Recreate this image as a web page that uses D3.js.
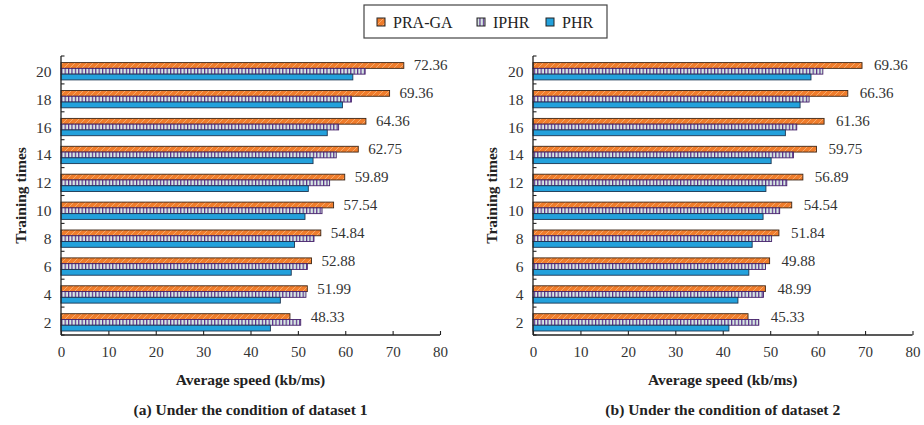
<!DOCTYPE html>
<html>
<head>
<meta charset="utf-8">
<script src="https://cdn.jsdelivr.net/npm/d3@7"></script>
<style>
  html, body { margin: 0; padding: 0; background: #fff; }
  svg text { font-family: "Liberation Serif", "Times New Roman", Times, serif; }
</style>
</head>
<body>
<svg id="chart" width="924" height="425"></svg>
<script>
// Training times (categories, top to bottom)
const categories = ["20", "18", "16", "14", "12", "10", "8", "6", "4", "2"];
const seriesNames = ["PRA-GA", "IPHR", "PHR"];

// Dataset 1: average speed (kb/ms)
const pragaSet1 = [72.36, 69.36, 64.36, 62.75, 59.89, 57.54, 54.84, 52.88, 51.99, 48.33];
const iphrSet1  = [64.2, 61.3, 58.6, 58.1, 56.7, 55.1, 53.4, 52.0, 51.7, 50.6];
const phrSet1   = [61.6, 59.4, 56.2, 53.2, 52.2, 51.5, 49.3, 48.6, 46.3, 44.2];

// Dataset 2: average speed (kb/ms)
const pragaSet2 = [69.36, 66.36, 61.36, 59.75, 56.89, 54.54, 51.84, 49.88, 48.99, 45.33];
const iphrSet2  = [61.1, 58.2, 55.6, 54.9, 53.5, 52.0, 50.3, 49.0, 48.6, 47.6];
const phrSet2   = [58.6, 56.3, 53.2, 50.2, 49.1, 48.5, 46.2, 45.5, 43.2, 41.3];

const xTickValues = [0, 10, 20, 30, 40, 50, 60, 70, 80];
const xDomain = [0, 80];

const SERIF = "'Liberation Serif', 'Times New Roman', Times, serif";

const panels = [
  { x0: 61, x1: 440, labelGap: 10, values: [pragaSet1, iphrSet1, phrSet1],
    xTitle: "Average speed (kb/ms)", caption: "(a) Under the condition of dataset 1", yTitleX: 20 },
  { x0: 533, x1: 912.5, labelGap: 12, values: [pragaSet2, iphrSet2, phrSet2],
    xTitle: "Average speed (kb/ms)", caption: "(b) Under the condition of dataset 2", yTitleX: 491 }
];

const svg = d3.select("#chart");
const defs = svg.append("defs");

// Orange fill with light diagonal hatching
const pOrange = defs.append("pattern").attr("id", "hatchOrange")
  .attr("patternUnits", "userSpaceOnUse").attr("width", 6).attr("height", 6);
pOrange.append("rect").attr("width", 6).attr("height", 6).attr("fill", "#f07d2c");
pOrange.append("path").attr("d", "M0,6 L6,0 M-1.5,1.5 L1.5,-1.5 M4.5,7.5 L7.5,4.5")
  .attr("stroke", "#f8b67c").attr("stroke-width", 0.8);

// Pale fill with purple vertical stripes
const pPurple = defs.append("pattern").attr("id", "stripePurple")
  .attr("patternUnits", "userSpaceOnUse").attr("width", 3.4).attr("height", 4);
pPurple.append("rect").attr("width", 3.4).attr("height", 4).attr("fill", "#d6e9e1");
pPurple.append("rect").attr("x", 0).attr("width", 1.2).attr("height", 4).attr("fill", "#5a2a8c");

const seriesStyle = {
  "PRA-GA": { fill: "url(#hatchOrange)", stroke: "#3d2616" },
  "IPHR":   { fill: "url(#stripePurple)", stroke: "#45226a" },
  "PHR":    { fill: "#23a1dc", stroke: "#1c3550" }
};

const yTop = 56, yBottom = 335;
const y = d3.scaleBand().domain(categories).range([yTop, yBottom]).paddingInner(0).paddingOuter(0);
const bw = y.bandwidth();
const ySub = d3.scaleBand().domain(seriesNames).range([6.6, bw - 4]);

panels.forEach(p => {
  const x = d3.scaleLinear().domain(xDomain).range([p.x0, p.x1]);
  const g = svg.append("g");

  // Bars
  seriesNames.forEach((name, si) => {
    const st = seriesStyle[name];
    g.selectAll(null).data(categories.map((c, i) => ({ c, v: p.values[si][i] })))
      .enter().append("rect")
      .attr("x", x(0))
      .attr("y", d => y(d.c) + ySub(name))
      .attr("width", d => x(d.v) - x(0))
      .attr("height", ySub.bandwidth())
      .attr("fill", st.fill)
      .attr("stroke", st.stroke)
      .attr("stroke-width", 0.9);
  });

  // Value labels for PRA-GA, placed just past the longest bar of each group
  g.selectAll(null).data(categories.map((c, i) => ({
      c, v: p.values[0][i], end: d3.max(p.values, s => s[i]) })))
    .enter().append("text")
    .attr("x", d => x(d.end) + p.labelGap)
    .attr("y", d => y(d.c) + ySub("PRA-GA") + ySub.bandwidth() / 2)
    .attr("dominant-baseline", "central")
    .attr("font-family", SERIF)
    .attr("font-size", 15)
    .attr("fill", "#333")
    .text(d => d.v.toFixed(2));

  // X axis
  const xAxis = d3.axisBottom(x).tickValues(xTickValues).tickSize(-4).tickPadding(11)
    .tickFormat(d3.format("d"));
  const gx = svg.append("g").attr("transform", `translate(0,${yBottom})`).call(xAxis)
    .attr("font-family", SERIF);
  gx.select(".domain").attr("stroke", "#222").attr("stroke-width", 1.3)
    .attr("d", `M${p.x0},0H${p.x1}`);
  gx.selectAll(".tick line").attr("stroke", "#222").attr("stroke-width", 1.1);
  gx.selectAll(".tick text").attr("font-size", 15).attr("fill", "#333")
    .attr("font-family", SERIF);

  // Y axis: ticks between categories, labels centred on each group
  const gy = svg.append("g");
  gy.append("line").attr("x1", p.x0).attr("x2", p.x0).attr("y1", yTop).attr("y2", yBottom)
    .attr("stroke", "#222").attr("stroke-width", 1.3);
  const bounds = categories.map(c => y(c)).concat([yBottom]);
  gy.selectAll(null).data(bounds).enter().append("line")
    .attr("x1", p.x0).attr("x2", p.x0 + 3.5).attr("y1", d => d).attr("y2", d => d)
    .attr("stroke", "#222").attr("stroke-width", 1.1);
  gy.selectAll(null).data(categories).enter().append("text")
    .attr("x", p.x0 - 9.5)
    .attr("y", d => y(d) + ySub("IPHR") + ySub.bandwidth() / 2)
    .attr("text-anchor", "end")
    .attr("dominant-baseline", "central")
    .attr("font-family", SERIF)
    .attr("font-size", 15.5)
    .attr("fill", "#333")
    .text(d => d);

  // Titles
  svg.append("text")
    .attr("x", (p.x0 + p.x1) / 2).attr("y", 379)
    .attr("text-anchor", "middle").attr("dominant-baseline", "central")
    .attr("font-family", SERIF)
    .attr("font-size", 15.5).attr("font-weight", "bold").attr("fill", "#222")
    .text(p.xTitle);
  svg.append("text")
    .attr("x", (p.x0 + p.x1) / 2).attr("y", 409)
    .attr("text-anchor", "middle").attr("dominant-baseline", "central")
    .attr("font-family", SERIF)
    .attr("font-size", 15.5).attr("font-weight", "bold").attr("fill", "#222")
    .text(p.caption);
  svg.append("text")
    .attr("transform", `translate(${p.yTitleX},${(yTop + yBottom) / 2}) rotate(-90)`)
    .attr("text-anchor", "middle").attr("dominant-baseline", "central")
    .attr("font-family", SERIF)
    .attr("font-size", 15.5).attr("font-weight", "bold").attr("fill", "#222")
    .text("Training times");
});

// Legend
const legend = svg.append("g");
legend.append("rect").attr("x", 364).attr("y", 5).attr("width", 243).attr("height", 33)
  .attr("fill", "#fff").attr("stroke", "#444").attr("stroke-width", 1.2);
const legendX = d3.scaleOrdinal().domain(seriesNames).range([377, 477, 546]);
seriesNames.forEach(name => {
  const lx = legendX(name);
  legend.append("rect").attr("x", lx).attr("y", 18).attr("width", 8).attr("height", 8)
    .attr("fill", seriesStyle[name].fill).attr("stroke", "#222").attr("stroke-width", 1);
  legend.append("text").attr("x", lx + 16).attr("y", 22.5)
    .attr("dominant-baseline", "central")
    .attr("font-family", SERIF)
    .attr("font-size", 16).attr("fill", "#222")
    .text(name);
});
</script>
</body>
</html>
